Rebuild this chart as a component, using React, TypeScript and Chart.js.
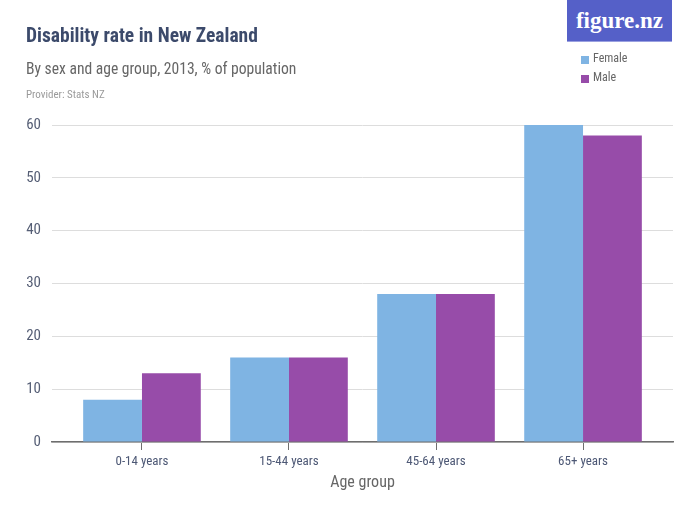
import React, { useEffect, useRef } from "react";
import { Chart, registerables } from "chart.js";

Chart.register(...registerables);

const categories = ["0-14 years", "15-44 years", "45-64 years", "65+ years"];
const female = [8, 16, 28, 60];
const male = [13, 16, 28, 58];
const yTicks = [0, 10, 20, 30, 40, 50, 60];

const FONT = "'Roboto Condensed', 'Liberation Sans', sans-serif";
const FEMALE_COLOR = "#7fb4e3";
const MALE_COLOR = "#974ca9";

export default function App() {
  const ref = useRef<HTMLCanvasElement | null>(null);

  useEffect(() => {
    if (!ref.current) return;
    const chart = new Chart(ref.current, {
      type: "bar",
      data: {
        datasets: [
          {
            label: "Female",
            data: female.map((v, i) => ({ x: i, y: v })),
            backgroundColor: FEMALE_COLOR,
            categoryPercentage: 0.8,
            barPercentage: 1.0,
          },
          {
            label: "Male",
            data: male.map((v, i) => ({ x: i, y: v })),
            backgroundColor: MALE_COLOR,
            categoryPercentage: 0.8,
            barPercentage: 1.0,
          },
        ],
      },
      options: {
        animation: false,
        responsive: false,
        devicePixelRatio: 1,
        layout: { padding: { left: 0, right: 27, top: 125, bottom: 0 } },
        plugins: { legend: { display: false }, tooltip: { enabled: false } },
        scales: {
          x: {
            type: "linear",
            min: -0.612,
            max: 3.612,
            offset: false,
            afterBuildTicks: (scale: any) => {
              scale.ticks = categories.map((_, i) => ({ value: i }));
            },
            afterFit: (scale: any) => {
              scale.height = 83;
            },
            ticks: {
              callback: (v: any) => categories[v] ?? "",
              font: { family: FONT, size: 13 },
              color: "#4d5875",
              padding: 4,
              maxRotation: 0,
              autoSkip: false,
            },
            grid: {
              offset: false,
              drawOnChartArea: false,
              drawTicks: true,
              tickLength: 8,
              color: "#6e6e6e",
            },
            border: { display: true, color: "#6e6e6e", width: 1.5 },
            title: {
              display: true,
              text: "Age group",
              font: { family: FONT, size: 16 },
              color: "#666666",
              padding: { top: 0, bottom: 32 },
            },
          },
          y: {
            min: 0,
            max: 60,
            afterBuildTicks: (scale: any) => {
              scale.ticks = yTicks.map((v) => ({ value: v }));
            },
            afterFit: (scale: any) => {
              scale.width = 52;
            },
            ticks: {
              font: { family: FONT, size: 15 },
              color: "#555e75",
              padding: 11,
            },
            grid: { color: "#dddddd", drawTicks: false },
            border: { display: false },
          },
        },
      },
    });
    return () => chart.destroy();
  }, []);

  return (
    <div style={{ position: "fixed", left: 0, top: 0, width: 700, height: 525, background: "#fff", fontFamily: FONT }}>
      <canvas ref={ref} width={700} height={525} style={{ position: "absolute", left: 0, top: 0, width: 700, height: 525 }} />
      <div style={{ position: "absolute", left: 26, top: 25, fontSize: 19.5, lineHeight: "22px", fontWeight: 700, color: "#3c4a6b", whiteSpace: "nowrap" }}>
        Disability rate in New Zealand
      </div>
      <div style={{ position: "absolute", left: 26, top: 59, fontSize: 15.6, lineHeight: "20px", color: "#666666", whiteSpace: "nowrap" }}>
        By sex and age group, 2013, % of population
      </div>
      <div style={{ position: "absolute", left: 26, top: 88, fontSize: 11, lineHeight: "13px", color: "#9a9a9a", whiteSpace: "nowrap" }}>
        Provider: Stats NZ
      </div>
      <div style={{ position: "absolute", left: 567, top: 0, width: 105, height: 42, background: "#5560c8", color: "#fff", display: "flex", alignItems: "center", justifyContent: "center", fontFamily: "'Liberation Serif', 'DejaVu Serif', serif", fontWeight: 700, fontSize: 23, borderBottom: "1px solid #9aa0e0", boxSizing: "border-box" }}>
        figure.nz
      </div>
      <div style={{ position: "absolute", left: 581, top: 49, fontSize: 12, color: "#666666", lineHeight: "19px" }}>
        <div style={{ display: "flex", alignItems: "center" }}>
          <span style={{ display: "inline-block", width: 8, height: 8, background: FEMALE_COLOR, marginRight: 4, marginTop: 2 }} />
          Female
        </div>
        <div style={{ display: "flex", alignItems: "center" }}>
          <span style={{ display: "inline-block", width: 8, height: 8, background: MALE_COLOR, marginRight: 4, marginTop: 2 }} />
          Male
        </div>
      </div>
    </div>
  );
}
